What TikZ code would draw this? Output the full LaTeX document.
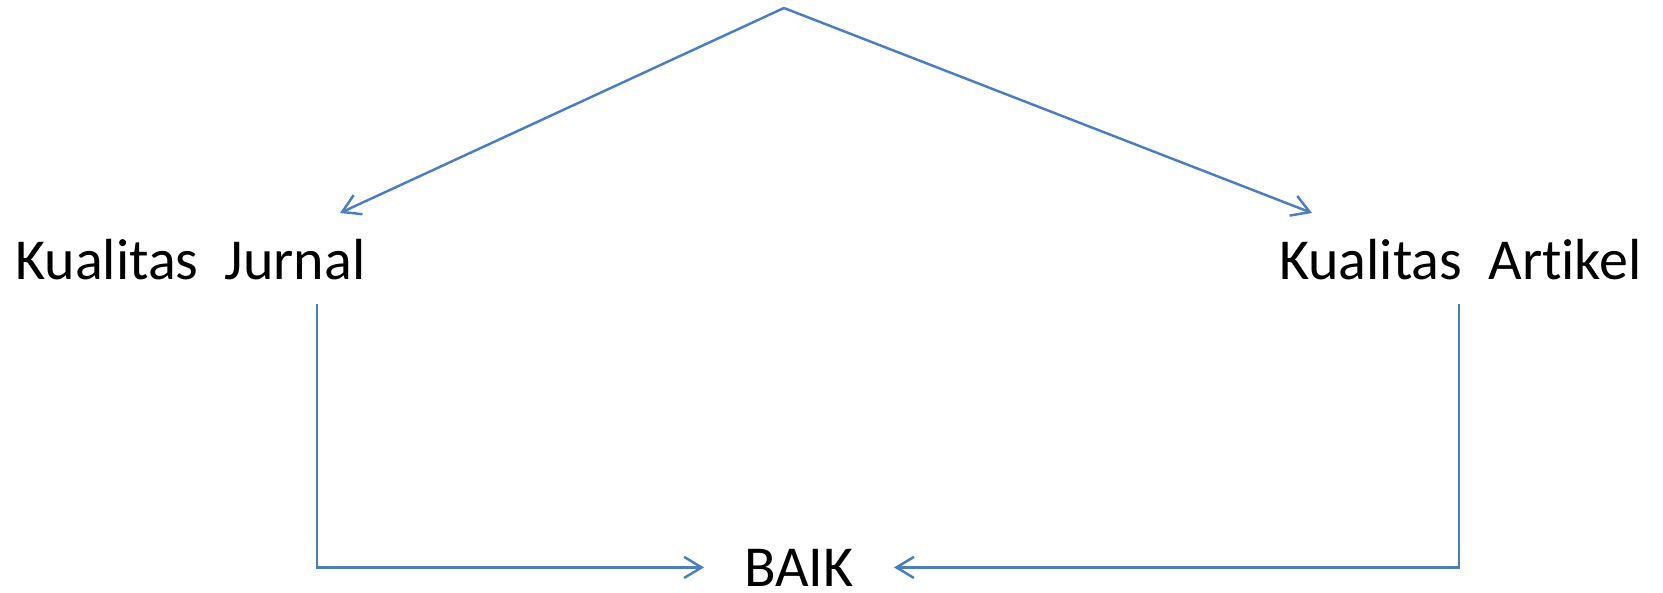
\documentclass[tikz,border=0pt]{standalone}
\usepackage{fontspec}
\setmainfont{Carlito}[Ligatures=NoCommon]
\usetikzlibrary{arrows.meta, positioning}
\definecolor{linkblue}{RGB}{74,126,190}

\begin{document}
\begin{tikzpicture}
	[x=0.02cm, y=-0.02cm, inner sep=0pt,
	 lbl/.style={font=\fontsize{33}{40}\selectfont},
	 link/.style={draw=linkblue, line width=1.4pt, -{Straight Barb[length=10pt, width=12pt, line width=1.4pt]}}]
   \useasboundingbox (0,0) rectangle (1663,592);
   \node[lbl, anchor=base west] (jurnal) at (15,279) {Kualitas\ \ Jurnal};
   \node[lbl, anchor=base east] (artikel) at (1642,279) {Kualitas\ \ Artikel};
   \node[lbl, anchor=base] (baik) at (799,586) {BAIK};
   \coordinate (top) at (784,8);
   \coordinate (jtip) at (340,213);
   \coordinate (atip) at (1312,213);
   \coordinate (jfoot) at (317,304);
   \coordinate (afoot) at (1459,304);
       \path
    (top) edge[link] (jtip)
          edge[link] (atip);
   \draw[link, shorten >=0.8cm] (jfoot) |- (baik.west);
   \draw[link, shorten >=0.8cm] (afoot) |- (baik.east);

\end{tikzpicture}
\end{document}
